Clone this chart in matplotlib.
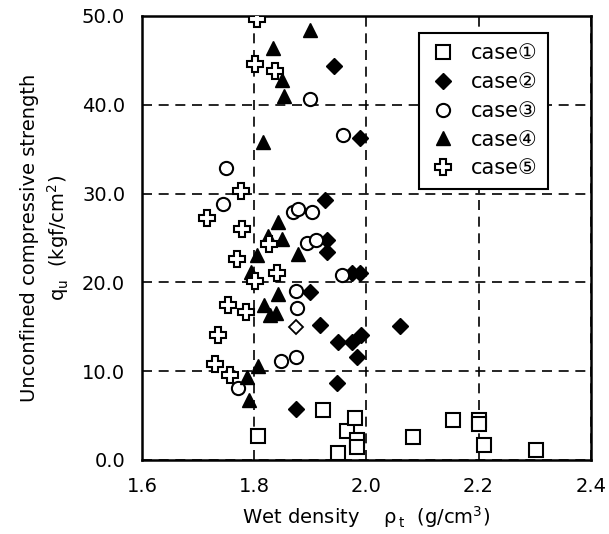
import numpy as np
import matplotlib.pyplot as plt

plt.rcParams['font.family'] = ['DejaVu Sans', 'Noto Sans CJK JP']
plt.rcParams['mathtext.fontset'] = 'dejavusans'

# case 1 (open squares)
c1_x = [1.807, 1.923, 1.95, 1.965, 1.98, 1.983, 1.983, 2.083, 2.154, 2.20, 2.20, 2.21, 2.302]
c1_y = [2.7, 5.6, 0.8, 3.3, 4.7, 2.3, 1.5, 2.6, 4.5, 4.5, 4.0, 1.7, 1.1]

# case 2 (filled diamonds)
c2_x = [1.942, 1.989, 1.926, 1.93, 1.93, 1.974, 1.988, 1.90, 1.917, 1.95,
        1.975, 1.99, 1.983, 2.06, 1.947, 1.875]
c2_y = [44.4, 36.3, 29.3, 24.8, 23.4, 21.1, 21.1, 18.9, 15.2, 13.3,
        13.3, 14.1, 11.6, 15.1, 8.7, 5.7]

# odd open diamond
c2b_x = [1.875]
c2b_y = [15.0]

# case 3 (open circles)
c3_x = [1.90, 1.958, 1.75, 1.745, 1.87, 1.878, 1.903, 1.894, 1.91, 1.956,
        1.875, 1.876, 1.848, 1.875, 1.771]
c3_y = [40.7, 36.6, 32.9, 28.8, 27.9, 28.3, 27.9, 24.4, 24.8, 20.8,
        19.0, 17.1, 11.2, 11.6, 8.1]

# case 4 (filled triangles)
c4_x = [1.90, 1.834, 1.85, 1.853, 1.816, 1.843, 1.825, 1.85, 1.878, 1.805,
        1.795, 1.842, 1.817, 1.839, 1.828, 1.807, 1.787, 1.791]
c4_y = [48.4, 46.4, 42.8, 41.0, 35.8, 26.8, 25.2, 24.9, 23.2, 23.1,
        21.2, 18.7, 17.5, 16.6, 16.3, 10.6, 9.3, 6.8]

# case 5 (open crosses)
c5_x = [1.805, 1.801, 1.837, 1.776, 1.716, 1.778, 1.826, 1.77, 1.801, 1.84,
        1.753, 1.785, 1.735, 1.73, 1.757]
c5_y = [49.6, 44.6, 43.8, 30.3, 27.2, 26.0, 24.3, 22.6, 20.2, 21.1,
        17.5, 16.7, 14.1, 10.8, 9.6]

fig = plt.figure(figsize=(6.09, 5.34), dpi=100)
ax = fig.add_axes([0.233, 0.1386, 0.737, 0.8316])

ax.plot(c1_x, c1_y, 's', ms=9.5, mfc='white', mec='black', mew=1.5, label='case①', zorder=3)
ax.plot(c2_x, c2_y, 'D', ms=8, mfc='black', mec='black', label='case②', zorder=3)
ax.plot(c2b_x, c2b_y, 'D', ms=7, mfc='white', mec='black', mew=1.3, zorder=3)
ax.plot(c3_x, c3_y, 'o', ms=9.5, mfc='white', mec='black', mew=1.5, label='case③', zorder=3)
ax.plot(c4_x, c4_y, '^', ms=10, mfc='black', mec='black', label='case④', zorder=3)
ax.plot(c5_x, c5_y, 'P', ms=11, mfc='white', mec='black', mew=1.5, label='case⑤', zorder=3)

ax.set_xlim(1.6, 2.4)
ax.set_ylim(0, 50)
ax.set_xticks([1.6, 1.8, 2.0, 2.2, 2.4])
ax.set_yticks([0, 10, 20, 30, 40, 50])
ax.set_xticklabels(['1.6', '1.8', '2.0', '2.2', '2.4'])
ax.set_yticklabels(['0.0', '10.0', '20.0', '30.0', '40.0', '50.0'])
ax.tick_params(axis='x', direction='in', length=0, labelsize=14, pad=12)
ax.tick_params(axis='y', direction='in', length=0, labelsize=14, pad=12)
ax.grid(True, color='black', linestyle=(0, (6, 4)), linewidth=1.2)
for s in ax.spines.values():
    s.set_linewidth(1.8)

ax.set_xlabel(r'Wet density    $\mathregular{\rho_{\,t}}$  (g/cm$\mathregular{^3}$)', fontsize=14, labelpad=6)
ax.set_ylabel('Unconfined compressive strength\n' + r'$\mathregular{q_u}$  (kgf/cm$\mathregular{^2}$)',
              fontsize=14, labelpad=8, linespacing=1.3)

leg = ax.legend(loc='upper right', bbox_to_anchor=(548 / 609, 1 - 33 / 534),
                bbox_transform=fig.transFigure, fontsize=15, frameon=True,
                fancybox=False, edgecolor='black', framealpha=1, borderaxespad=0,
                handletextpad=0.7, labelspacing=0.42, borderpad=0.5, handlelength=1.3)
leg.get_frame().set_linewidth(1.5)

fig.savefig('out.png', dpi=100)
